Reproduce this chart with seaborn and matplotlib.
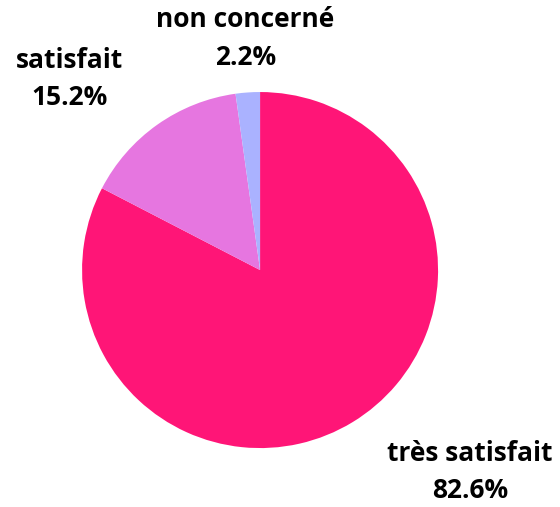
import matplotlib
matplotlib.use("Agg")
import matplotlib.pyplot as plt
import seaborn as sns

# données
categories = ["très satisfait", "satisfait", "non concerné"]
percentages = [82.6, 15.2, 2.2]
colors = ["#FF1577", "#E676E0", "#AAB2FF"]

sns.set_theme(style="white")
plt.rcParams["font.family"] = ["Open Sans", "DejaVu Sans"]

fig = plt.figure(figsize=(5.6, 5.07), dpi=100)
ax = fig.add_axes([0, 0, 1, 1])

ax.pie(percentages, colors=colors, startangle=90, counterclock=False,
       radius=1, wedgeprops=dict(linewidth=0))

# positions des étiquettes (hors du camembert)
label_pos = [(1.18, -1.135), (-1.07, 1.073), (-0.084, 1.30)]
for cat, pct, (x, y) in zip(categories, percentages, label_pos):
    ax.text(x, y, f"{cat}\n{pct:.1f}%", ha="center", va="center",
            fontsize=19, fontweight="bold", linespacing=1.5, color="black")

ax.set_xlim(-1.461, 1.685)
ax.set_ylim(-1.331, 1.517)
ax.set_aspect("auto")
ax.axis("off")

fig.savefig("out.png", dpi=100, facecolor="white")
plt.close(fig)
